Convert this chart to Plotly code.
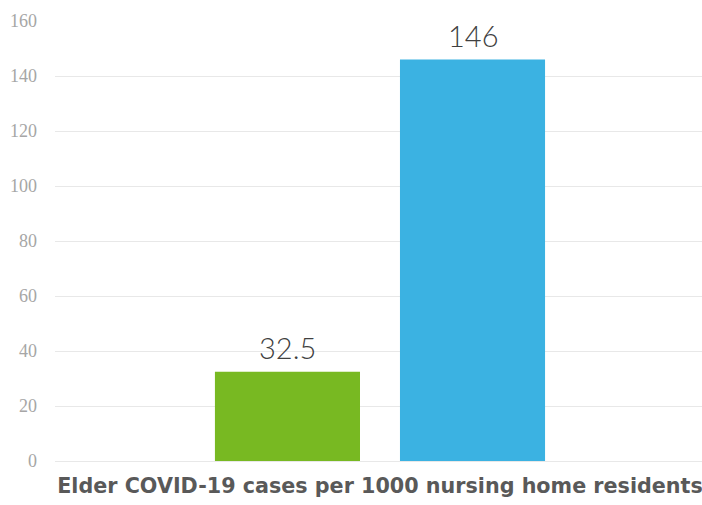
import plotly.graph_objects as go

category = ["Elder COVID-19 cases per 1000 nursing home residents"]
series_names = ["Series A", "Series B"]
series_values = [[32.5], [146]]
series_labels = ["32.5", "146"]
series_colors = ["#78B922", "#3BB2E2"]
y_ticks = [0, 20, 40, 60, 80, 100, 120, 140, 160]

W, H = 702, 505
ML, MR, MT, MB = 55, 0, 21, 44
BARGAP, BARGROUPGAP = 0.428, 0.216

fig = go.Figure()
for name, vals, col in zip(series_names, series_values, series_colors):
    fig.add_trace(go.Bar(
        x=category, y=vals, name=name,
        marker=dict(color=col, line=dict(width=0)),
        hoverinfo="y",
    ))

plot_w = W - ML - MR
slot = plot_w * (1 - BARGAP) / len(series_names)
for i, (vals, lab) in enumerate(zip(series_values, series_labels)):
    fig.add_annotation(
        x=category[0], y=vals[0], xref="x", yref="y", text=lab, showarrow=False,
        xshift=(i - (len(series_names) - 1) / 2) * slot, yanchor="bottom", yshift=5,
        font=dict(family="Lato", size=29, color="#404040", weight=300),
    )

fig.update_layout(
    width=W, height=H,
    margin=dict(l=ML, r=MR, t=MT, b=MB),
    paper_bgcolor="white", plot_bgcolor="white",
    barmode="group", bargap=BARGAP, bargroupgap=BARGROUPGAP,
    showlegend=False,
)
fig.update_xaxes(
    range=[-0.5023, 0.4977], showgrid=False, zeroline=False, showline=False,
    ticks="", tickfont=dict(family="DejaVu Sans", size=20.7, color="#595959", weight="bold"),
    ticklabelstandoff=10,
)
fig.update_yaxes(
    range=[0, 160], tickvals=y_ticks, showgrid=True, gridcolor="#E8E8E8", gridwidth=1,
    zeroline=True, zerolinecolor="#E8E8E8", zerolinewidth=1, showline=False,
    tickfont=dict(family="Liberation Serif", size=18, color="#A6A6A6"),
    ticklabelstandoff=17,
)
fig.write_html("out.html", config={"responsive": False, "displayModeBar": False},
               post_script="document.body.style.margin='0';document.body.style.overflow='hidden';")
